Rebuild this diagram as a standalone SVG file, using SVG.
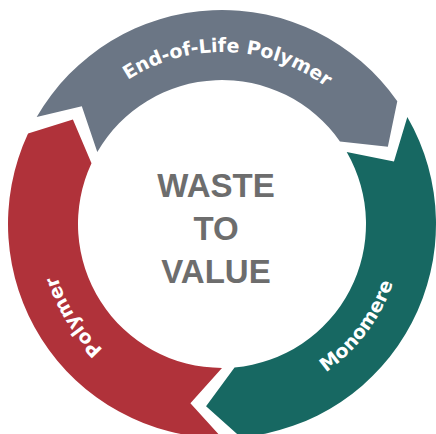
<svg xmlns="http://www.w3.org/2000/svg" width="436" height="434" viewBox="0 0 436 434">
  <style>
    .arc-label { font-family: "DejaVu Sans", "Liberation Sans", sans-serif; font-weight: bold; font-size: 19px; fill: #ffffff; }
    .center { font-family: "Liberation Sans", Arial, sans-serif; font-weight: bold; font-size: 33px; fill: #6d6d6d; text-anchor: middle; }
  </style>
  <defs>
    <path id="p-top" d="M 94.18 108.91 A 172 172 0 0 1 357.54 118.11"/>
    <path id="p-mono" d="M 262.72 400.36 A 181 181 0 0 0 402.75 214.53"/>
    <path id="p-poly" d="M 168.54 388.53 A 173 173 0 0 1 50.68 199.92"/>
  </defs>
  <rect width="436" height="434" fill="#ffffff"/>
  <g id="connectors"></g>
  <g id="node-polymer">
    <path d="M 222 438 A 214 214 0 0 1 28.05 133.56 L 72.91 119.61 L 91.49 163.14 A 144 144 0 0 0 222 368 L 190.40 403.24 Z" fill="#b0323a"/>
    <text class="arc-label"><textPath href="#p-poly" startOffset="50%" text-anchor="middle">Polymer</textPath></text>
  </g>
  <g id="node-eol-polymer">
    <path d="M 36.67 117 A 214 214 0 0 1 397.30 101.25 L 387.85 146.66 L 339.96 141.40 A 144 144 0 0 0 97.29 152 L 81.81 106.37 Z" fill="#6b7685"/>
    <text class="arc-label"><textPath href="#p-top" startOffset="50%" text-anchor="middle">End-of-Life Polymer</textPath></text>
  </g>
  <g id="node-monomere">
    <path d="M 407.33 117 A 214 214 0 0 1 240.65 437.18 L 206.05 406.30 L 234.55 367.45 A 144 144 0 0 0 346.71 152 L 393.96 161.41 Z" fill="#176862"/>
    <text class="arc-label"><textPath href="#p-mono" startOffset="50%" text-anchor="middle">Monomere</textPath></text>
  </g>
  <g id="node-center">
    <text class="center" x="216" y="197">WASTE</text>
    <text class="center" x="216" y="240">TO</text>
    <text class="center" x="216" y="283">VALUE</text>
  </g>
</svg>
